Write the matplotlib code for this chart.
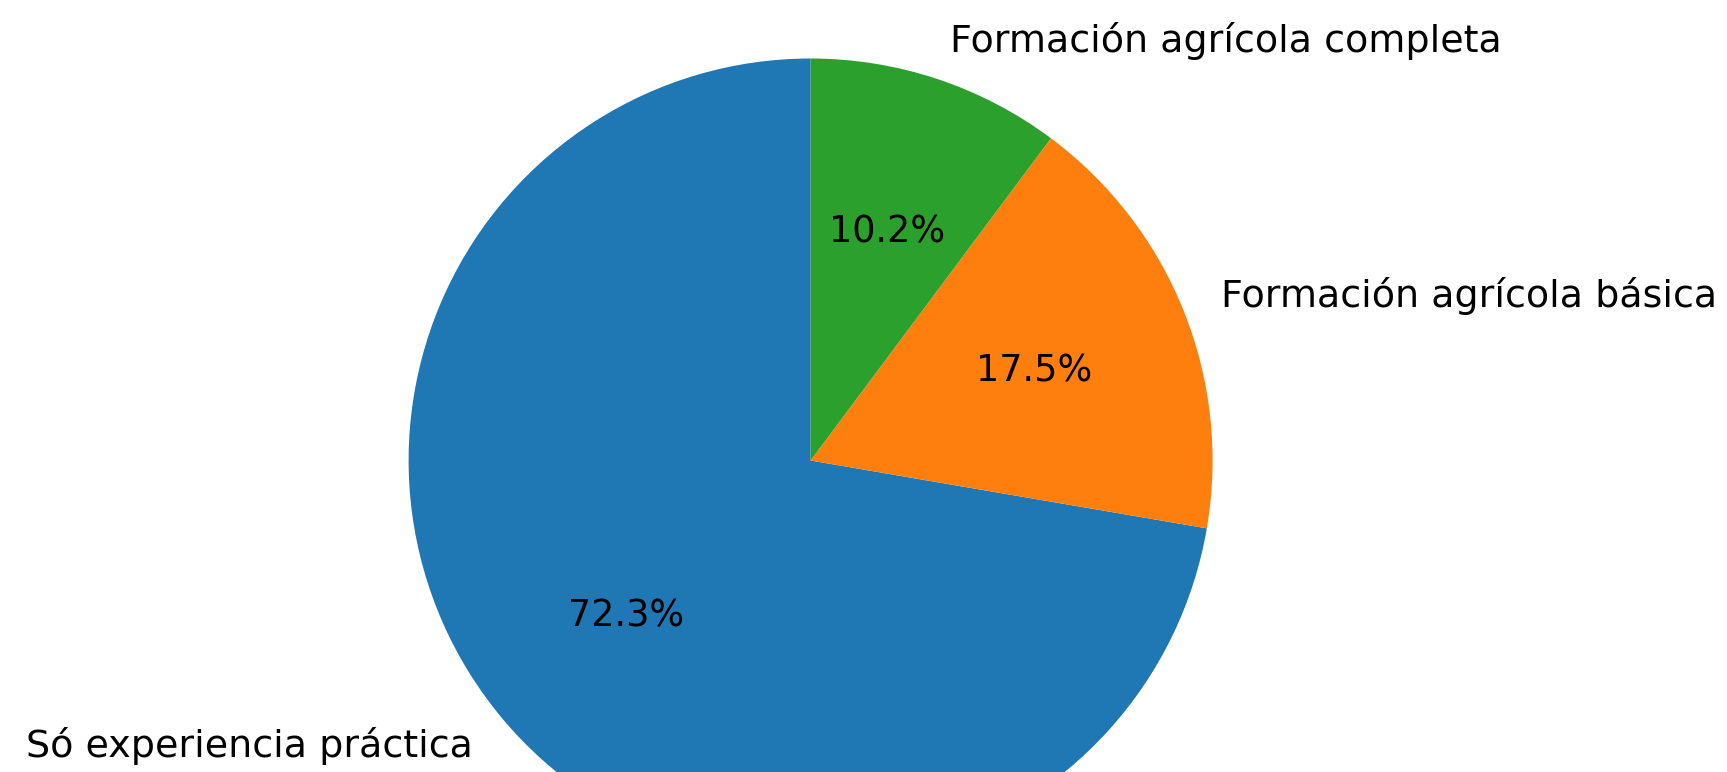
import matplotlib
matplotlib.use("Agg")
import matplotlib.pyplot as plt

labels = ["Só experiencia práctica", "Formación agrícola básica", "Formación agrícola completa"]
values = [72.3, 17.5, 10.2]

W, H = 1727, 772
fig = plt.figure(figsize=(W / 100, H / 100), dpi=100)
ax = fig.add_axes([0, 0, 1, 1])
wedges, texts, autotexts = ax.pie(values, labels=labels, autopct="%1.1f%%",
                                  startangle=90, textprops={"fontsize": 26.4})
for t in texts:
    t.set_fontsize(27.4)

cx, cy, r = 810.6, 460.5, 402.0  # pixel placement of pie
ax.set_aspect("auto")
ax.set_xlim(-cx / r, (W - cx) / r)
ax.set_ylim(-(H - cy) / r, cy / r)
fig.savefig("out.png", dpi=100)
